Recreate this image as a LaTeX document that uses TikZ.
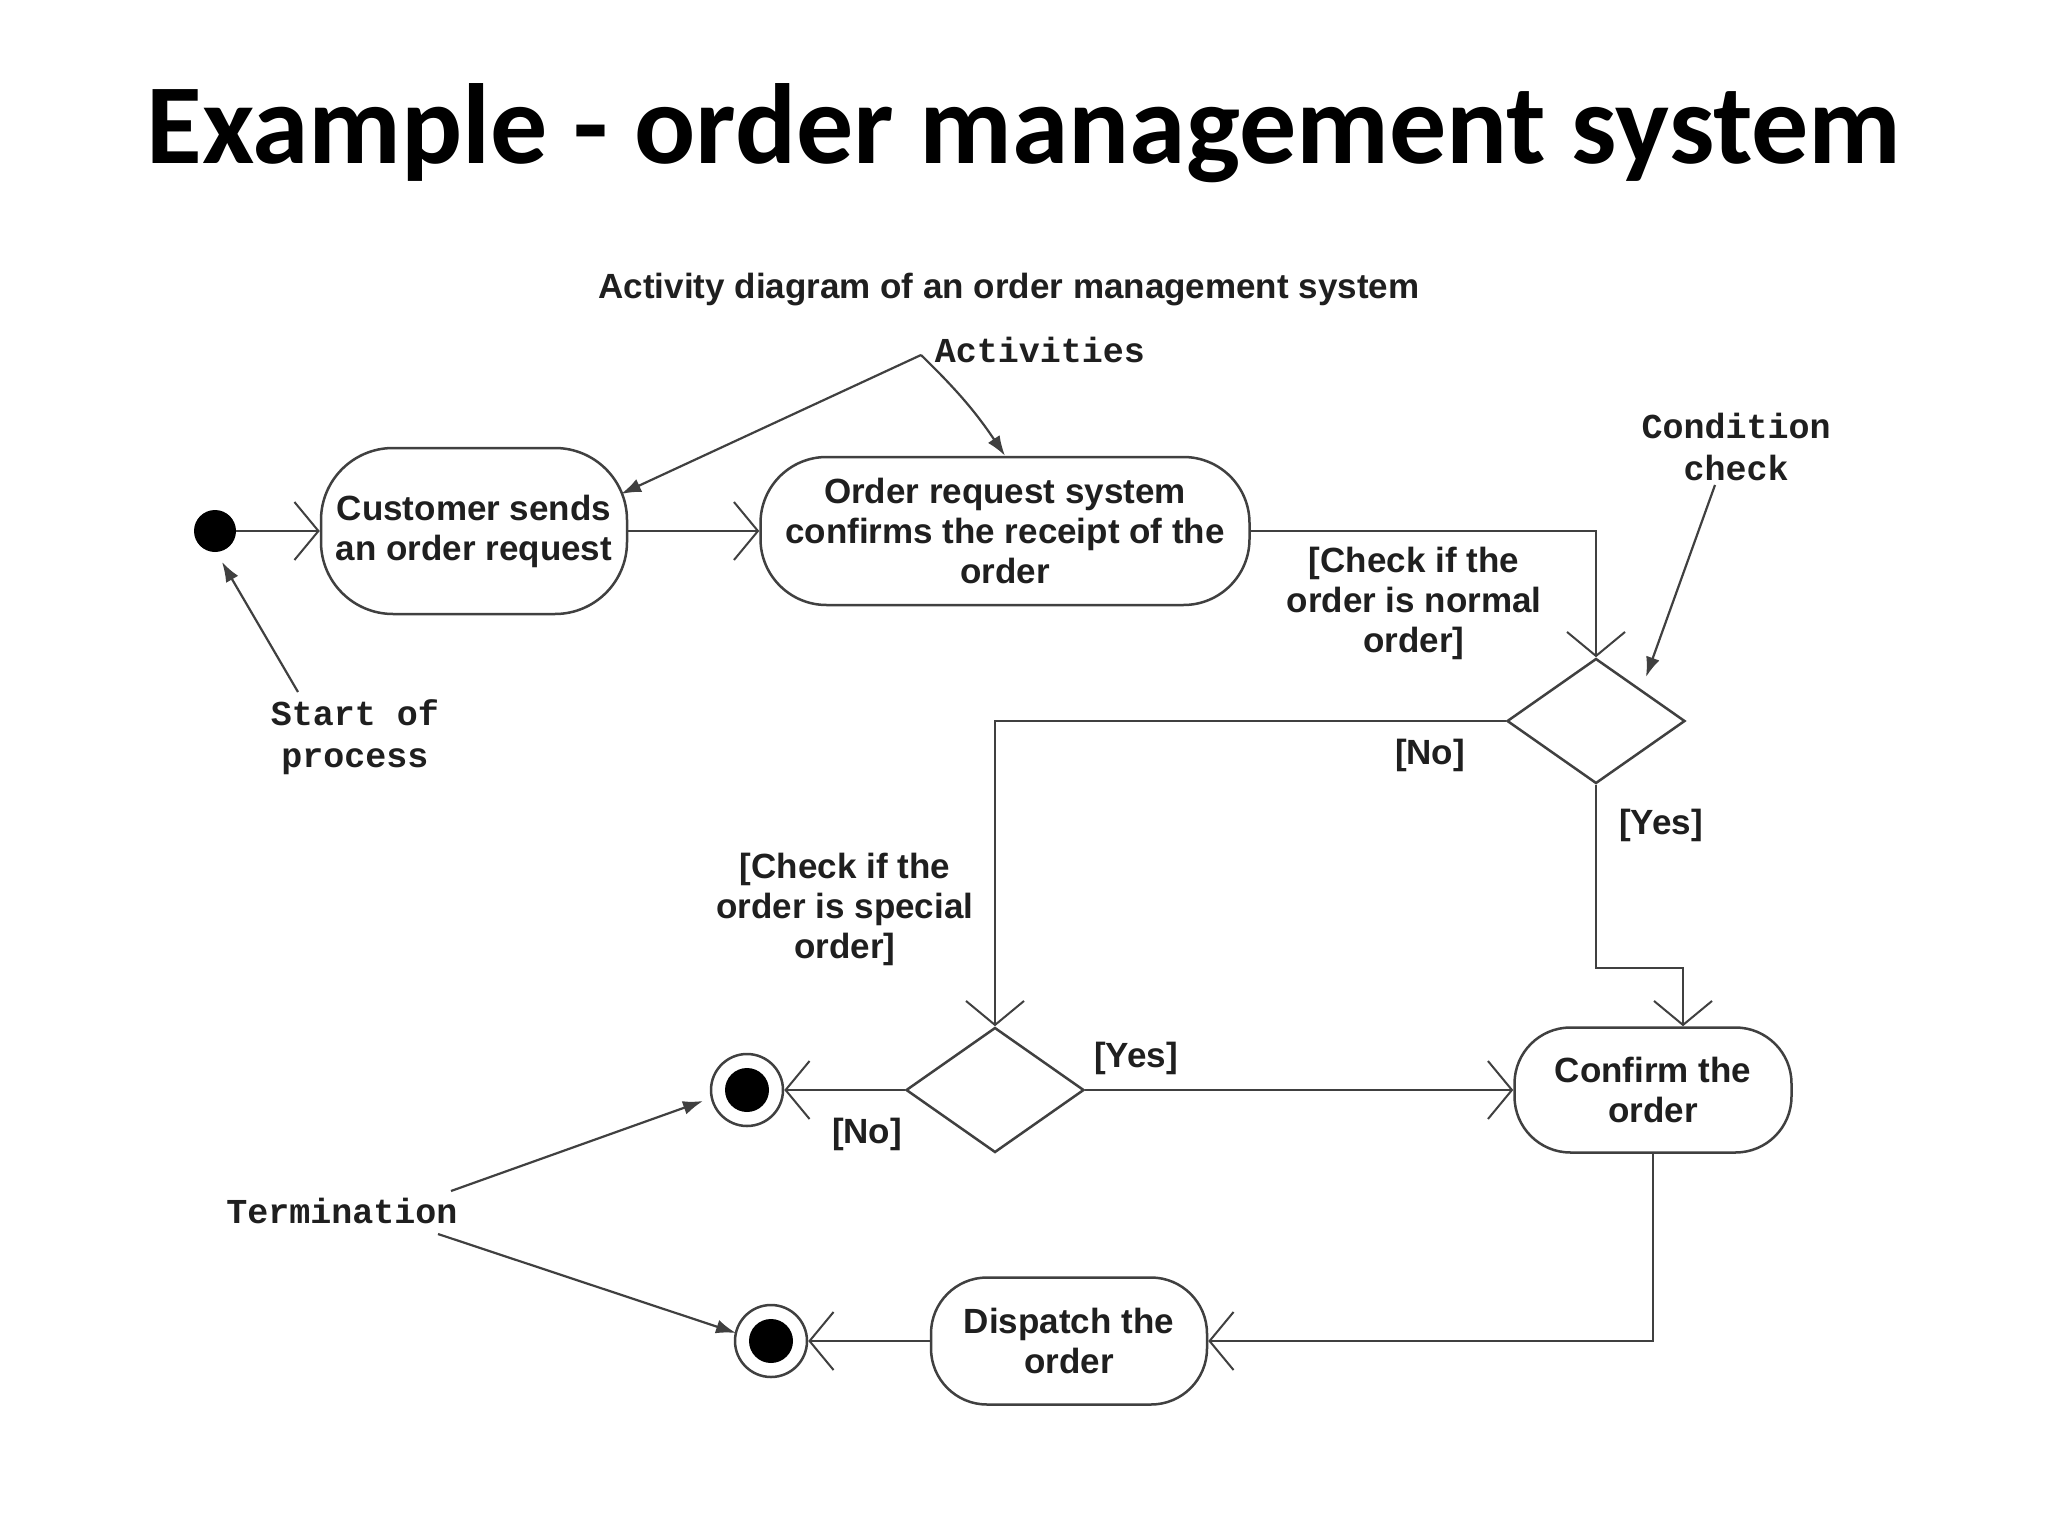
\documentclass[tikz,border=0pt]{standalone}
\usepackage{fontspec}
\setmainfont{Liberation Sans}
\newfontfamily\titlefont{Carlito}
\newfontfamily\notefont{Liberation Mono}
\usetikzlibrary{arrows.meta,shapes.geometric}
\definecolor{linec}{gray}{0.25}
\definecolor{txtc}{gray}{0.12}
\begin{document}
\begin{tikzpicture}[x=1pt,y=-1pt,
  ln/.style={line width=2.5pt, draw=linec},
  flow/.style={ln, -{Straight Barb[length=24pt,width=58pt,line width=2pt]}},
  note/.style={line width=2.2pt, draw=linec, -{Latex[length=20pt,width=14pt]}},
  act/.style={draw=linec, line width=2.5pt, inner sep=0pt, text=txtc, align=center,
    font=\bfseries\fontsize{35}{40}\selectfont},
  lbl/.style={text=txtc, align=center, inner sep=0pt, font=\bfseries\fontsize{35}{40}\selectfont},
  mono/.style={text=txtc, align=center, inner sep=0pt, font=\notefont\bfseries\fontsize{35}{42}\selectfont},
  dec/.style={diamond, draw=linec, line width=2.5pt, inner sep=0pt, minimum width=178pt, minimum height=125pt},
  endst/.style={circle, draw=linec, line width=2.5pt, minimum size=72pt, inner sep=0pt}
]
\useasboundingbox[fill=white] (0,0) rectangle (2048,1536);

% titles
\node[anchor=base, inner sep=0pt, font=\titlefont\bfseries\fontsize{114}{124}\selectfont] (title) at (1024,164) {Example - order management system};
\node[lbl] (sub) at (1009,290) {Activity diagram of an order management system};

% nodes
\node[circle, fill=black, minimum size=42pt, inner sep=0pt] (start) at (215,531) {};
\node[act, rounded corners=72pt, minimum width=306pt, minimum height=166pt] (cust) at (474,531) {Customer sends\\an order request};
\node[act, rounded corners=66pt, minimum width=489pt, minimum height=148pt] (ord) at (1005,531) {Order request system\\confirms the receipt of the\\order};
\node[dec] (d1) at (1596,721) {};
\node[dec] (d2) at (995,1090) {};
\node[act, rounded corners=56pt, minimum width=277pt, minimum height=125pt] (conf) at (1653,1090) {Confirm the\\order};
\node[act, rounded corners=56pt, minimum width=276pt, minimum height=127pt] (disp) at (1069,1341) {Dispatch the\\order};
\node[endst] (end1) at (747,1090) {};
\fill[black] (end1.center) circle (22pt);
\node[endst] (end2) at (771,1341) {};
\fill[black] (end2.center) circle (22pt);

% flow connectors
\draw[flow] (start) -- (cust.west);
\draw[flow] (cust.east) -- (ord.west);
\draw[flow] (ord.east) -| (d1.north);
\draw[flow] (d1.west) -| (d2.north);
\coordinate (yesbend) at (1683,968);
\draw[flow] (d1.south) |- (yesbend) -- (yesbend |- conf.north);
\draw[flow] (d2.east) -- (conf.west);
\draw[flow] (d2.west) -- (end1.east);
\draw[flow] (conf.south) |- (disp.east);
\draw[flow] (disp.west) -- (end2.east);

% guard labels
\node[lbl] (gnormal) at (1414,603) {[Check if the\\order is normal\\order]};
\node[lbl] (gspecial) at (845,909) {[Check if the\\order is special\\order]};
\node[lbl] (no1) at (1430,755) {[No]};
\node[lbl] (yes1) at (1661,825) {[Yes]};
\node[lbl] (yes2) at (1136,1058) {[Yes]};
\node[lbl] (no2) at (867,1134) {[No]};

% annotations
\node[mono] (activities) at (1040,350) {Activities};
\node[mono] (cond) at (1736,447) {Condition\\check};
\node[mono] (startlbl) at (355,737) {Start of\\process};
\node[mono] (term) at (342,1211) {Termination};

\coordinate (actsrc) at (921,355);
\coordinate (custtip) at (621,494);
\draw[note] (actsrc) -- (custtip);
\draw[note] (actsrc) to[bend left=6] (ord.north);
\coordinate (condsrc) at (1715,485);
\coordinate (condtip) at (1646,677);
\draw[note] (condsrc) -- (condtip);
\coordinate (startsrc) at (298,692);
\coordinate (starttip) at (222,562);
\draw[note] (startsrc) -- (starttip);
\coordinate (termsrc1) at (451,1191);
\coordinate (termtip1) at (703,1101);
\draw[note] (termsrc1) -- (termtip1);
\coordinate (termsrc2) at (438,1234);
\coordinate (termtip2) at (736,1333);
\draw[note] (termsrc2) -- (termtip2);
\end{tikzpicture}
\end{document}
